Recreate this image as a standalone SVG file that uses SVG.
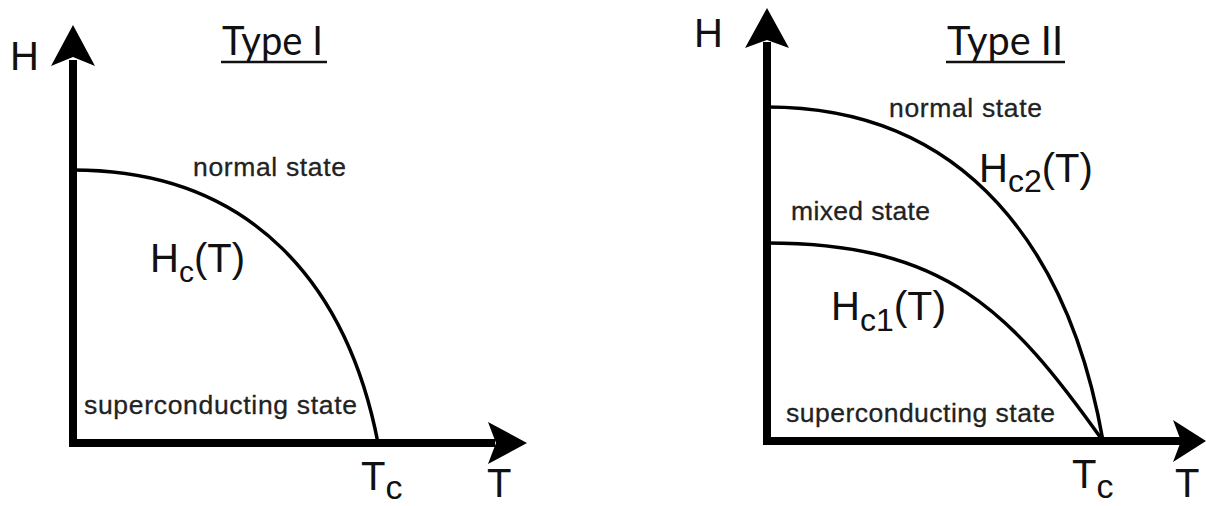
<svg xmlns="http://www.w3.org/2000/svg" width="1206" height="506" viewBox="0 0 1206 506">
<style>
.axis{stroke:#000;stroke-width:8;fill:none}
.curve{stroke:#000;stroke-width:3.5;fill:none}
.head{fill:#000}
.lbl{font-family:"Liberation Sans",Arial,sans-serif;fill:#222;font-size:26.5px;stroke:#222;stroke-width:0.3}
.big{font-family:"Liberation Sans",Arial,sans-serif;fill:#111;font-size:40px}
.title{font-family:Lato,"Open Sans",sans-serif;fill:#111;font-size:40px}
.ul{stroke:#111;stroke-width:2.5}
</style>
<rect width="1206" height="506" fill="#fff"/>
<g id="connectors">
  <g id="axes-left">
    <path class="axis" d="M73 60 V443 H495"/>
    <path class="head" d="M73 25 L95 66 L73 57 L51 66 Z"/>
    <path class="head" d="M527 443 L488 422 L496 443 L488 464 Z"/>
  </g>
  <g id="axes-right">
    <path class="axis" d="M767 42 V441 H1182"/>
    <path class="head" d="M767 8 L789 48 L767 40 L745 48 Z"/>
    <path class="head" d="M1206 441 L1173 420 L1181 441 L1173 462 Z"/>
  </g>
  <path id="curve-hc" class="curve" d="M73 170 C254 170 348 288 378 443"/>
  <path id="curve-hc2" class="curve" d="M767 107 C967 107 1070 252 1103 441"/>
  <path id="curve-hc1" class="curve" d="M767 243 C945 243 1010 310 1103 441"/>
</g>
<g id="title-type1">
  <text class="title" x="222" y="55" textLength="101" lengthAdjust="spacingAndGlyphs">Type I</text>
  <line class="ul" x1="221" y1="62" x2="327" y2="62"/>
</g>
<g id="title-type2">
  <text class="title" x="947" y="55" textLength="116" lengthAdjust="spacingAndGlyphs">Type II</text>
  <line class="ul" x1="946" y1="62" x2="1065" y2="62"/>
</g>
<g id="label-H-left"><text class="big" x="10" y="70" font-size="45">H</text></g>
<g id="label-H-right"><text class="big" x="694" y="47" font-size="45">H</text></g>
<g id="label-normal-left"><text class="lbl" x="193" y="176" textLength="153">normal state</text></g>
<g id="label-hc"><text class="big" x="150" y="272" font-size="38">H<tspan font-size="30" dy="10">c</tspan><tspan dy="-10">(T)</tspan></text></g>
<g id="label-sc-left"><text class="lbl" x="84" y="414" textLength="273">superconducting state</text></g>
<g id="label-tc-left"><text class="big" x="361" y="490" font-size="42">T<tspan font-size="34" dy="9">c</tspan></text></g>
<g id="label-T-left"><text class="big" x="487" y="497" font-size="40">T</text></g>
<g id="label-normal-right"><text class="lbl" x="889" y="117" textLength="153">normal state</text></g>
<g id="label-hc2"><text class="big" x="979" y="182" font-size="38">H<tspan font-size="32" dy="10">c2</tspan><tspan font-size="40" dy="-10">(T)</tspan></text></g>
<g id="label-mixed"><text class="lbl" x="791" y="220" textLength="139">mixed state</text></g>
<g id="label-hc1"><text class="big" x="831" y="320" font-size="39">H<tspan font-size="32" dy="11">c1</tspan><tspan font-size="41" dy="-11">(T)</tspan></text></g>
<g id="label-sc-right"><text class="lbl" x="786" y="422" textLength="269">superconducting state</text></g>
<g id="label-tc-right"><text class="big" x="1072" y="488" font-size="42">T<tspan font-size="34" dy="10">c</tspan></text></g>
<g id="label-T-right"><text class="big" x="1175" y="497" font-size="40">T</text></g>
</svg>
